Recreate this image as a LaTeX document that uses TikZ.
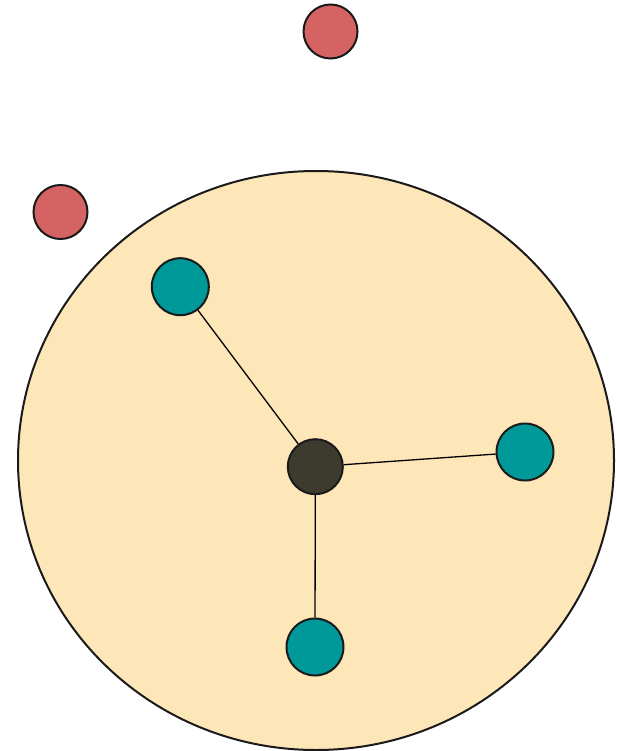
\documentclass[tikz,border=0pt]{standalone}
\usetikzlibrary{shapes.geometric}
\definecolor{cellfill}{HTML}{FDE6B8}
\definecolor{redball}{HTML}{D66363}
\definecolor{tealball}{HTML}{009999}
\definecolor{coreball}{HTML}{3D3A2E}
\definecolor{edge}{HTML}{1A1A1A}
\begin{document}
\begin{tikzpicture}[x=1pt,y=-1pt,
  ball/.style={circle,draw=edge,line width=2pt,inner sep=0pt,minimum size=#1},
  link/.style={draw=black,line width=1.3pt}]
\useasboundingbox (0,0) rectangle (616,751);
\node[ellipse,draw=edge,line width=2pt,fill=cellfill,minimum width=596pt,minimum height=579pt,inner sep=0pt] (cell) at (316,460.5) {};
\node[ball=54pt,fill=redball] (r1) at (330.5,31.5) {};
\node[ball=54pt,fill=redball] (r2) at (60.5,212) {};
\node[ball=55pt,fill=coreball] (core) at (315.3,466.7) {};
\node[ball=57pt,fill=tealball] (t1) at (180.3,286.7) {};
\node[ball=57pt,fill=tealball] (t2) at (525,452) {};
\node[ball=57pt,fill=tealball] (t3) at (315,647) {};
\draw[link] (core) -- (t1);
\draw[link] (core) -- (t2);
\draw[link] (core) -- (t3);
\end{tikzpicture}
\end{document}
